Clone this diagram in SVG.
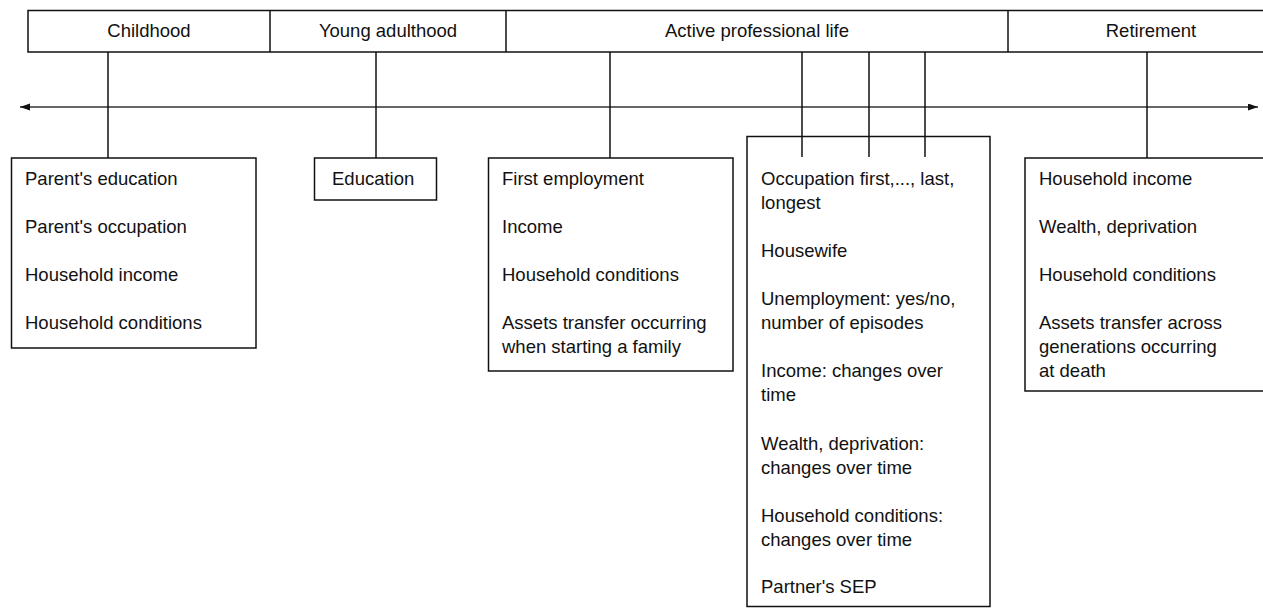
<svg xmlns="http://www.w3.org/2000/svg" width="1263" height="608" viewBox="0 0 1263 608">
  <style>
    .box { fill: #fff; stroke: #111; stroke-width: 1.5; }
    .hdr { fill: none; stroke: #111; stroke-width: 1.5; }
    .lbl { font-family: "Liberation Sans", Arial, sans-serif; font-size: 18.5px; fill: #111; }
    .mid { text-anchor: middle; }
    .conn { stroke: #111; stroke-width: 1.5; fill: none; }
    .axis { stroke: #666; stroke-width: 2; fill: none; }
  </style>
  <defs>
    <marker id="ah" markerUnits="userSpaceOnUse" markerWidth="11" markerHeight="8" refX="10" refY="3.5" orient="auto-start-reverse">
      <path d="M0,0 L10,3.5 L0,7 z" fill="#111"/>
    </marker>
  </defs>
  <rect width="1263" height="608" fill="#fff"/>

  <g id="connectors">
    <line class="axis" x1="20" y1="107" x2="1258" y2="107" marker-start="url(#ah)" marker-end="url(#ah)"/>
    <line class="conn" x1="108" y1="52" x2="108" y2="158"/>
    <line class="conn" x1="376" y1="52" x2="376" y2="158"/>
    <line class="conn" x1="610" y1="52" x2="610" y2="158"/>
    <line class="conn" x1="1147" y1="52" x2="1147" y2="158"/>
  </g>

  <g id="header">
    <rect class="hdr" x="28" y="10.5" width="1250" height="41.5"/>
    <line class="hdr" x1="270" y1="10.5" x2="270" y2="52"/>
    <line class="hdr" x1="506" y1="10.5" x2="506" y2="52"/>
    <line class="hdr" x1="1008" y1="10.5" x2="1008" y2="52"/>
    <text class="lbl mid" x="149" y="37">Childhood</text>
    <text class="lbl mid" x="388" y="37">Young adulthood</text>
    <text class="lbl mid" x="757" y="37">Active professional life</text>
    <text class="lbl mid" x="1151" y="37">Retirement</text>
  </g>

  <g id="childhood">
    <rect class="box" x="11.5" y="158" width="244.5" height="190"/>
    <text class="lbl" x="25" y="185">Parent's education</text>
    <text class="lbl" x="25" y="233">Parent's occupation</text>
    <text class="lbl" x="25" y="281">Household income</text>
    <text class="lbl" x="25" y="329">Household conditions</text>
  </g>

  <g id="young">
    <rect class="box" x="314.5" y="158" width="122" height="42"/>
    <text class="lbl" x="332" y="185">Education</text>
  </g>

  <g id="first-employment">
    <rect class="box" x="488.5" y="158" width="244.5" height="213"/>
    <text class="lbl" x="502" y="185">First employment</text>
    <text class="lbl" x="502" y="233">Income</text>
    <text class="lbl" x="502" y="281">Household conditions</text>
    <text class="lbl" x="502" y="329">Assets transfer occurring</text>
    <text class="lbl" x="502" y="353">when starting a family</text>
  </g>

  <g id="active">
    <rect class="box" x="747" y="136.5" width="243" height="470"/>
    <line class="conn" x1="802" y1="52" x2="802" y2="157"/>
    <line class="conn" x1="869" y1="52" x2="869" y2="157"/>
    <line class="conn" x1="925" y1="52" x2="925" y2="157"/>
    <text class="lbl" x="761" y="185">Occupation first,..., last,</text>
    <text class="lbl" x="761" y="209">longest</text>
    <text class="lbl" x="761" y="257">Housewife</text>
    <text class="lbl" x="761" y="305">Unemployment: yes/no,</text>
    <text class="lbl" x="761" y="329">number of episodes</text>
    <text class="lbl" x="761" y="377">Income: changes over</text>
    <text class="lbl" x="761" y="401">time</text>
    <text class="lbl" x="761" y="450">Wealth, deprivation:</text>
    <text class="lbl" x="761" y="474">changes over time</text>
    <text class="lbl" x="761" y="522">Household conditions:</text>
    <text class="lbl" x="761" y="546">changes over time</text>
    <text class="lbl" x="761" y="593">Partner's SEP</text>
  </g>

  <g id="retirement">
    <rect class="box" x="1025" y="158" width="260" height="233"/>
    <text class="lbl" x="1039" y="185">Household income</text>
    <text class="lbl" x="1039" y="233">Wealth, deprivation</text>
    <text class="lbl" x="1039" y="281">Household conditions</text>
    <text class="lbl" x="1039" y="329">Assets transfer across</text>
    <text class="lbl" x="1039" y="353">generations occurring</text>
    <text class="lbl" x="1039" y="377">at death</text>
  </g>
</svg>
